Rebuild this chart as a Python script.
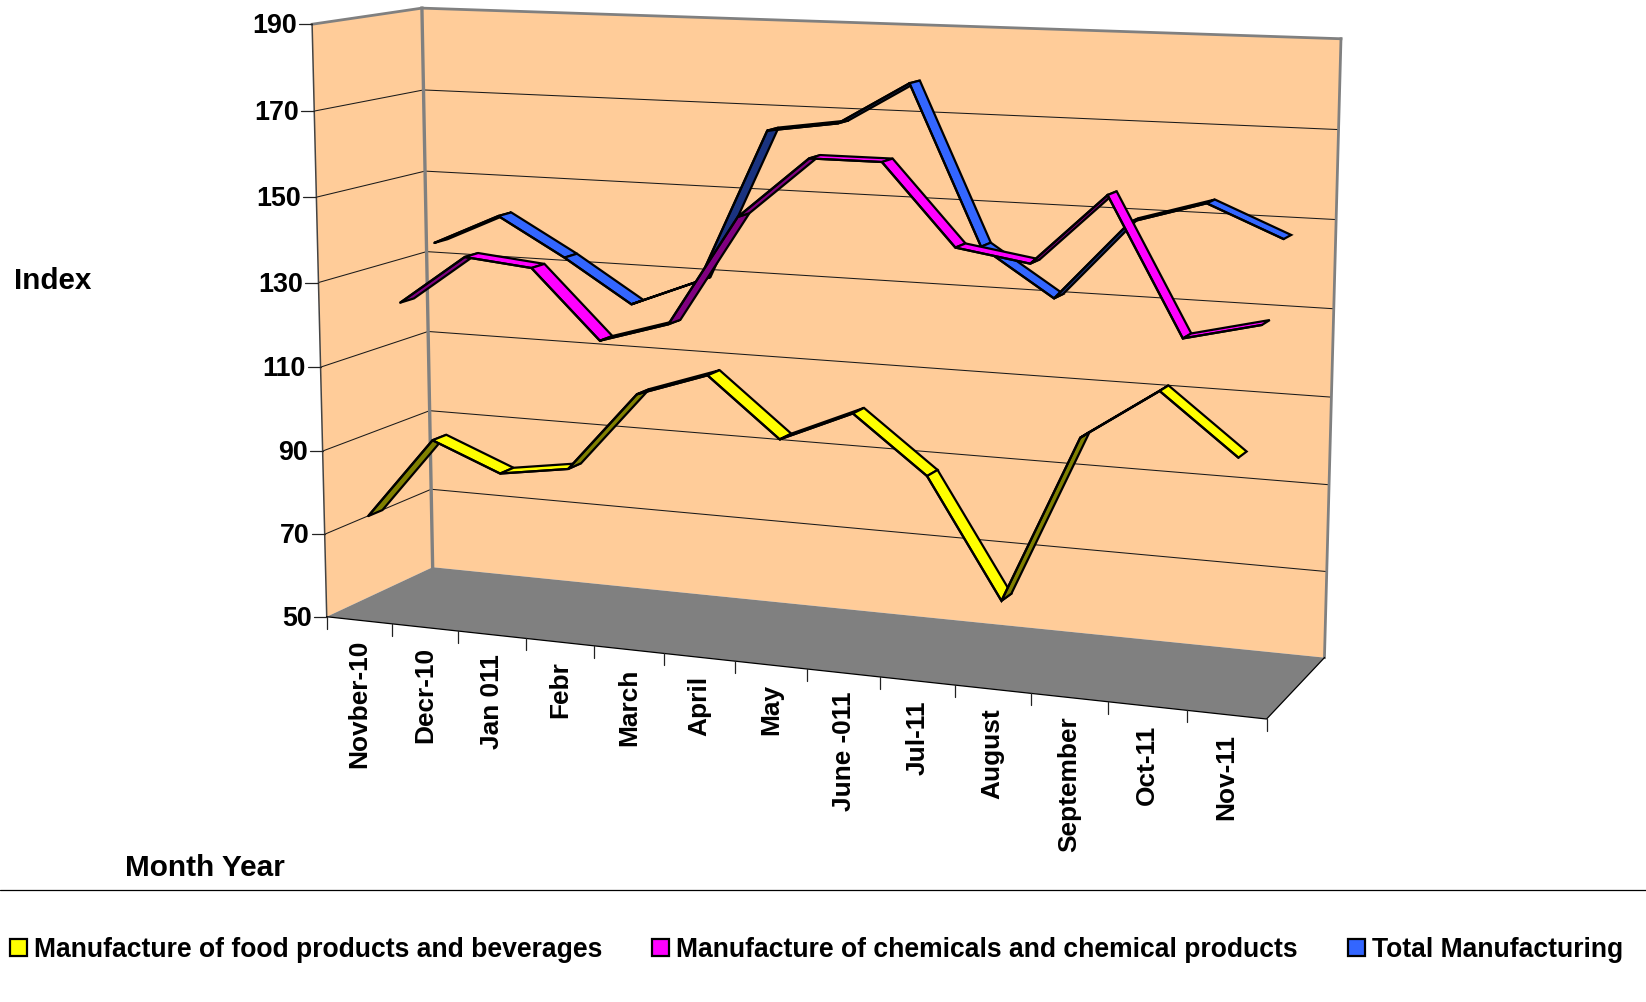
import numpy as np, pandas as pd, seaborn as sns
import matplotlib
matplotlib.use("Agg")
import matplotlib.pyplot as plt
from matplotlib.transforms import Transform
from matplotlib.patches import Patch

months = ["Novber-10", "Decr-10", "Jan 011", "Febr", "March", "April", "May",
          "June -011", "Jul-11", "August", "September", "Oct-11", "Nov-11"]
food = [74.0, 93.6, 87.1, 89.6, 108.3, 113.9, 100.6, 107.8, 95.1, 68.6, 106.4, 117.9, 104.8]
chemicals = [122.3, 134.3, 132.7, 116.6, 121.6, 147.5, 161.7, 161.7, 143.4, 140.8, 156.9, 126.4, 130.5]
total = [134.3, 141.8, 132.7, 122.5, 129.1, 165.4, 167.8, 177.7, 141.2, 130.4, 148.7, 153.8, 146.8]
y_ticks = [50, 70, 90, 110, 130, 150, 170, 190]
series_names = ["Manufacture of food products and beverages",
                "Manufacture of chemicals and chemical products",
                "Total Manufacturing"]

sns.set_theme(style="white")
plt.rcParams['font.family'] = ['Liberation Sans', 'DejaVu Sans']
plt.rcParams['font.weight'] = 'bold'
plt.rcParams['text.color'] = 'black'

# camera: a projective map fitted to where the chart box's corners sit on the page
box = [((0, 0, 0), (326.7, 616.7)), ((0, 1, 0), (312.3, 24)), ((0, 1, 1), (421.7, 8.3)),
       ((0, 0, 1), (432.7, 567.3)), ((1, 1, 1), (1341, 38.8)), ((1, 0, 1), (1324.6, 657.3)),
       ((1, 0, 0), (1266.4, 719.3))]
rows = []
for (X, Y, Z), (u, v) in box:
    rows.append([X, Y, Z, 1, 0, 0, 0, 0, -u*X, -u*Y, -u*Z, -u])
    rows.append([0, 0, 0, 0, X, Y, Z, 1, -v*X, -v*Y, -v*Z, -v])
P = np.linalg.svd(np.array(rows))[2][-1].reshape(3, 4)
N = len(months)
VMIN, VMAX = y_ticks[0], y_ticks[-1]


def proj(c, val, z):
    c = np.asarray(c, float)
    val = np.asarray(val, float)
    H = np.stack([c / N, (val - VMIN) / (VMAX - VMIN), np.full_like(c, z), np.ones_like(c)], -1) @ P.T
    return H[..., 0] / H[..., 2], H[..., 1] / H[..., 2]


class Proj(Transform):
    input_dims = output_dims = 2
    is_affine = False
    has_inverse = False

    def __init__(self, z):
        super().__init__()
        self.z = z

    def transform_non_affine(self, values):
        values = np.asarray(values, float)
        u, v = proj(values[:, 0], values[:, 1], self.z)
        return np.column_stack([u, v])


fig = plt.figure(figsize=(16.46, 10.02), dpi=100)
ax = fig.add_axes([0, 0, 1, 1])


def T(z):
    return Proj(z) + ax.transData


PEACH, FLOOR, EDGE = '#FFCC99', '#808080', '#808080'


def quad(c, v, z, **kw):
    pts = [proj(ci, vi, zi) for ci, vi, zi in zip(c, v, z)]
    ax.fill([p[0] for p in pts], [p[1] for p in pts], **kw)


quad([0, 0, 0, 0], [VMIN, VMAX, VMAX, VMIN], [0, 0, 1, 1], color=PEACH, lw=0, zorder=1)
quad([0, 0, N, N], [VMIN, VMAX, VMAX, VMIN], [1, 1, 1, 1], color=PEACH, lw=0, zorder=1)
quad([0, N, N, 0], [VMIN, VMIN, VMIN, VMIN], [0, 0, 1, 1], color=FLOOR, lw=0, zorder=1)


def seg(c, v, z, color, lw, zo=1.5):
    pts = [proj(ci, vi, zi) for ci, vi, zi in zip(c, v, z)]
    ax.plot([p[0] for p in pts], [p[1] for p in pts], color=color, lw=lw, zorder=zo,
            solid_capstyle='projecting')


for t in y_ticks[1:-1]:
    seg([0, 0, N], [t, t, t], [0, 1, 1], '#1a1a1a', 0.75)
seg([0, 0], [VMIN, VMAX], [1, 1], EDGE, 2.4, 1.7)
seg([N, N], [VMIN, VMAX], [1, 1], EDGE, 2.0, 1.7)
seg([0, 0, N], [VMAX, VMAX, VMAX], [0, 1, 1], EDGE, 2.0, 1.7)
seg([0, 0], [VMIN, VMAX], [0, 0], '#444444', 1.1, 1.7)
seg([0, N, N], [VMIN, VMIN, VMIN], [0, 0, 1], '#000000', 0.9, 1.7)

# ticks and labels
for c in range(N + 1):
    u, v = proj(c, VMIN, 0)
    ax.plot([u, u], [v, v + 12], color='#222222', lw=0.9, zorder=1.7)
for t in y_ticks:
    u, v = proj(0, t, 0)
    ax.plot([u - 13, u], [v, v], color='#222222', lw=0.9, zorder=1.7)
    ax.annotate(str(t), xy=(0, t), xycoords=T(0), xytext=(-15, -2), textcoords='offset pixels',
                ha='right', va='center', fontsize=19.4, color='black', fontweight='bold')
for i, m in enumerate(months):
    ax.annotate(m, xy=(i + .5, VMIN), xycoords=T(0), xytext=(0, -19), textcoords='offset pixels',
                rotation=90, ha='center', va='top', fontsize=18.9, color='black', fontweight='bold')

# ribbons, back series first
styles = [(total, 5/6, '#3366FF', '#1A3380', 3),
          (chemicals, 1/2, '#FF00FF', '#800080', 4),
          (food, 1/6, '#FFFF00', '#808000', 5)]
cats = np.arange(N) + .5
HALF = 0.065
for vals, zc, bright, dark, zo in styles:
    for i in range(N - 1):
        c = [cats[i], cats[i + 1], cats[i + 1], cats[i]]
        v = [vals[i], vals[i + 1], vals[i + 1], vals[i]]
        z = [zc - HALF, zc - HALF, zc + HALF, zc + HALF]
        pts = np.array([proj(a, b, d) for a, b, d in zip(c, v, z)])
        area = np.sum(pts[:, 0] * np.roll(pts[:, 1], -1) - np.roll(pts[:, 0], -1) * pts[:, 1])
        ax.fill(pts[:, 0], pts[:, 1], facecolor=dark if area > 0 else bright,
                edgecolor='black', lw=1.6, joinstyle='miter', zorder=zo)
    frame = pd.DataFrame({'c': cats, 'value': vals})
    sns.lineplot(data=frame, x='c', y='value', ax=ax, color='black', lw=1.6, sort=False,
                 errorbar=None, legend=False, transform=T(zc - HALF), zorder=zo + .1,
                 solid_joinstyle='miter')

ax.set_xlim(0, 1646)
ax.set_ylim(1002, 0)
ax.axis('off')

ax.text(14, 281, "Index", fontsize=21.3, fontweight='bold', va='center', ha='left', color='black')
ax.text(125, 868, "Month Year", fontsize=21.4, fontweight='bold', va='center', ha='left', color='black')
ax.axhline(890, color='black', lw=0.9)

LF = 19.12
px = LF * 100 / 72
handles = [Patch(facecolor=s[2], edgecolor='black', lw=1.6) for s in (styles[2], styles[1], styles[0])]
leg = fig.legend(handles, series_names, ncol=3, frameon=False, loc='center left',
                 bbox_to_anchor=(10 / 1646, 1 - 950 / 1002), borderpad=0, borderaxespad=0,
                 handlelength=17 / px, handleheight=17 / px, handletextpad=7 / px, columnspacing=50 / px,
                 prop={'size': LF, 'weight': 'bold'}, labelcolor='black')
fig.savefig('out.png', dpi=100)
